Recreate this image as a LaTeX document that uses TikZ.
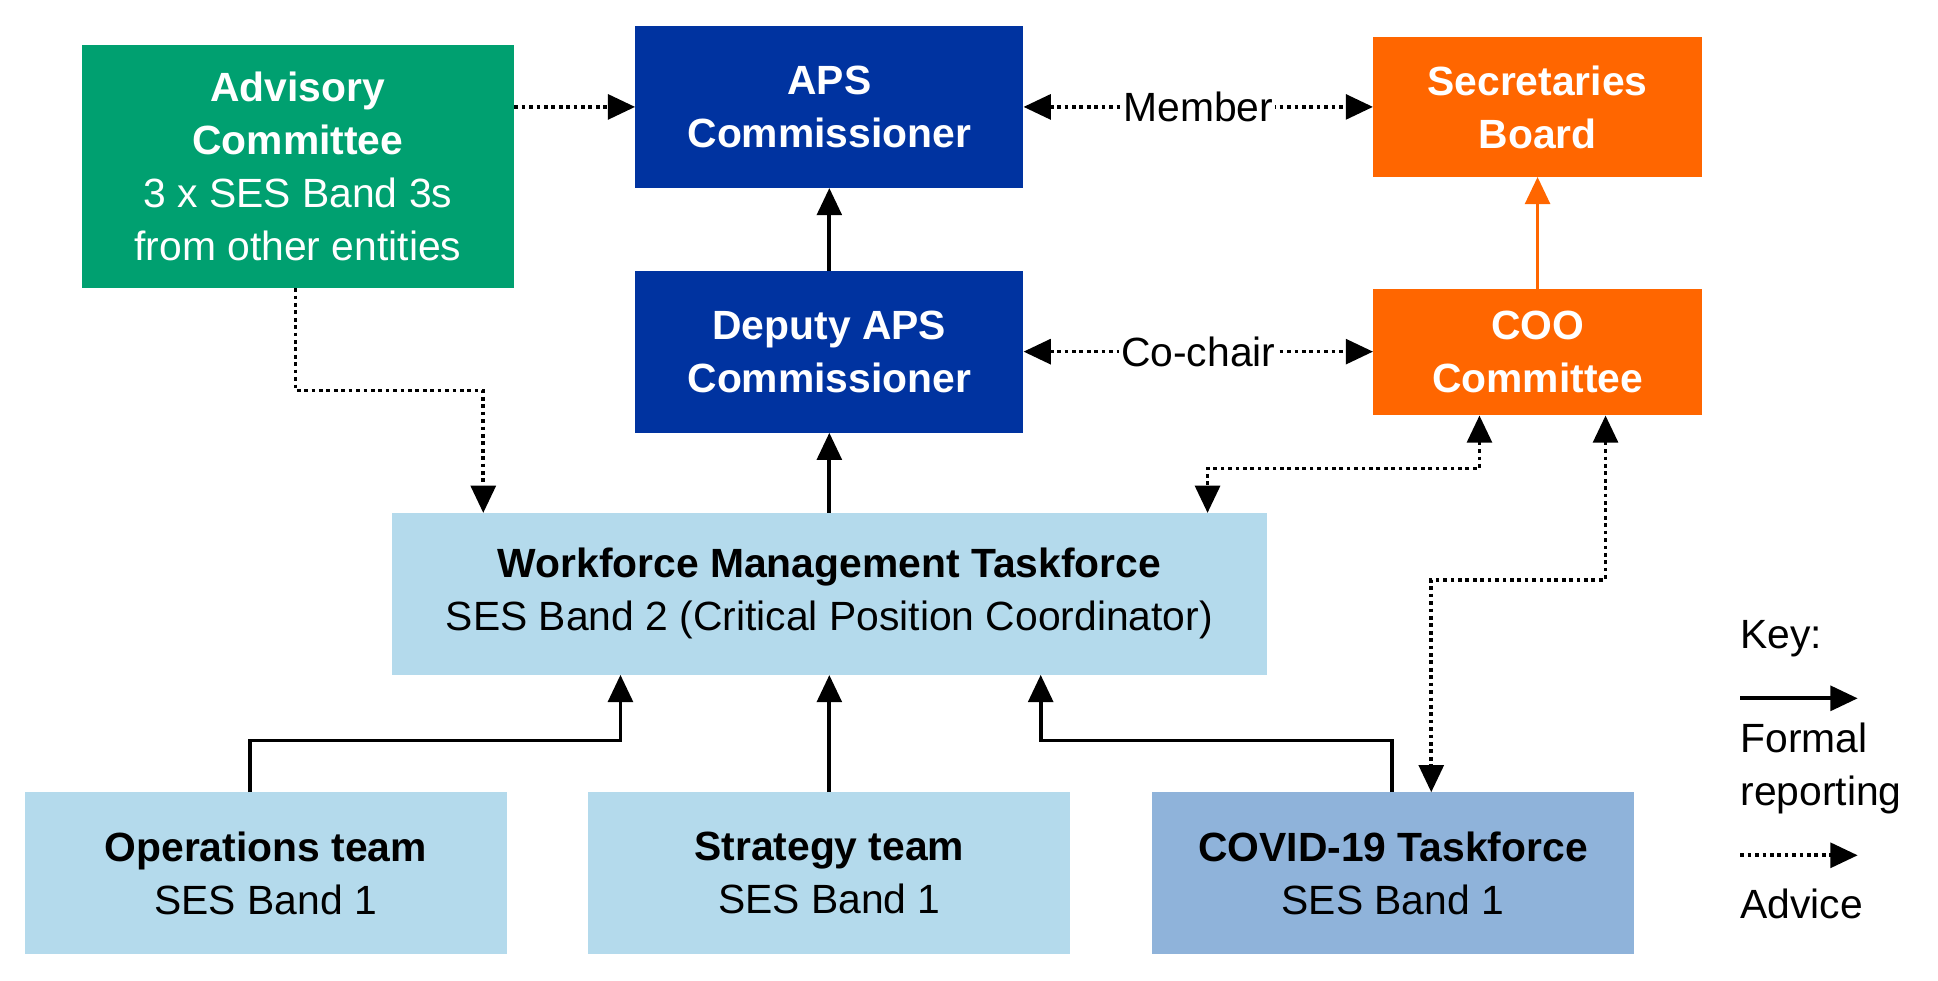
\documentclass[tikz,border=0pt]{standalone}
\usepackage{fontspec}
\setmainfont{Liberation Sans}
\usetikzlibrary{arrows.meta}
\definecolor{grn}{HTML}{00A070}
\definecolor{dblue}{HTML}{0033A0}
\definecolor{orng}{HTML}{FF6600}
\definecolor{lblue}{HTML}{B4DAEC}
\definecolor{mblue}{HTML}{8FB3DA}
\begin{document}
\begin{tikzpicture}[x=0.05cm,y=-0.05cm,
  box/.style={draw=none,align=center,inner sep=0pt,font=\fontsize{47}{61}\selectfont},
  wb/.style={box,text=white,font=\fontsize{47}{61}\selectfont\bfseries},
  tip/.style={-{Triangle[length=1.1cm,width=1cm]}},
  tips/.style={{Triangle[length=1.1cm,width=1cm]}-{Triangle[length=1.1cm,width=1cm]}},
  ln/.style={line width=0.15cm},
  dt/.style={ln,dash pattern=on 0.15cm off 0.15cm},
  lab/.style={fill=white,inner sep=2pt,font=\fontsize{47}{61}\selectfont}]
\useasboundingbox (0,0) rectangle (1568,793);
\node[wb,fill=grn,minimum width=17.5cm,minimum height=9.85cm] (adv) at (241,134.5) {Advisory\\Committee\\\mdseries 3 x SES Band 3s\\\mdseries from other entities};
\node[wb,fill=dblue,minimum width=15.7cm,minimum height=6.55cm] (aps) at (671,86.5) {APS\\Commissioner};
\node[wb,fill=orng,minimum width=13.3cm,minimum height=5.65cm] (sec) at (1244,86.5) {Secretaries\\Board};
\node[wb,fill=dblue,minimum width=15.7cm,minimum height=6.55cm] (dep) at (671,284.5) {Deputy APS\\Commissioner};
\node[wb,fill=orng,minimum width=13.3cm,minimum height=5.1cm] (coo) at (1244,285) {COO\\Committee};
\node[box,fill=lblue,minimum width=35.4cm,minimum height=6.55cm] (wmt) at (671,480.5) {\textbf{Workforce Management Taskforce}\\SES Band 2 (Critical Position Coordinator)};
\node[box,fill=lblue,minimum width=19.5cm,minimum height=6.55cm] (ops) at (215,706.5) {\textbf{Operations team}\\SES Band 1};
\node[box,fill=lblue,minimum width=19.5cm,minimum height=6.55cm] (str) at (671,706.5) {\textbf{Strategy team}\\SES Band 1};
\node[box,fill=mblue,minimum width=19.5cm,minimum height=6.55cm] (cov) at (1127,706.5) {\textbf{COVID-19 Taskforce}\\SES Band 1};
% top row
\draw[dt,tip] (adv.east|-aps) -- (aps.west);
\draw[dt,tips] (aps.east) -- node[lab]{Member} (sec.west|-aps.east);
\draw[ln,tip] (dep) ++(0,-65.5) -- (aps.south);
\draw[dt,tips] (dep.east) -- node[lab]{Co-chair} (coo.west|-dep.east);
\draw[ln,tip,orng] (coo.north) -- (sec.south);
% advisory -> wmt
\coordinate (a1) at (239,316);
\draw[dt,tip] (adv.south-|a1) |- (a1) -| (391,415);
\draw[ln,tip] (wmt.north) -- (dep.south);
% coo <-> wmt
\coordinate (c1) at (1197,379);
\draw[dt,tips] (c1|-coo.south) |- (977,379) -- (977,415);
\coordinate (c2) at (1299,469);
\draw[dt,tips] (c2|-coo.south) |- (1158,469) -- (1158,641);
% teams -> wmt
\coordinate (o1) at (202,599);
\draw[ln,tip] (o1|-ops.north) |- (502,599) -- (502,546);
\draw[ln,tip] (str.north) -- (wmt.south);
\coordinate (v1) at (1126,599);
\draw[ln,tip] (v1|-cov.north) |- (842,599) -- (842,546);
% key
\node[anchor=west,inner sep=0pt,font=\fontsize{47}{61}\selectfont] (k1) at (1408,517) {Key:};
\coordinate (k2) at (1408,565);
\draw[ln,tip] (k2) -- ++(95,0);
\node[anchor=north west,inner sep=0pt,align=left,font=\fontsize{47}{61}\selectfont] (k3) at (1408,585) {Formal\\reporting};
\coordinate (k4) at (1408,692);
\draw[dt,tip] (k4) -- ++(95,0);
\node[anchor=west,inner sep=0pt,font=\fontsize{47}{61}\selectfont] (k5) at (1408,731) {Advice};
\end{tikzpicture}
\end{document}
